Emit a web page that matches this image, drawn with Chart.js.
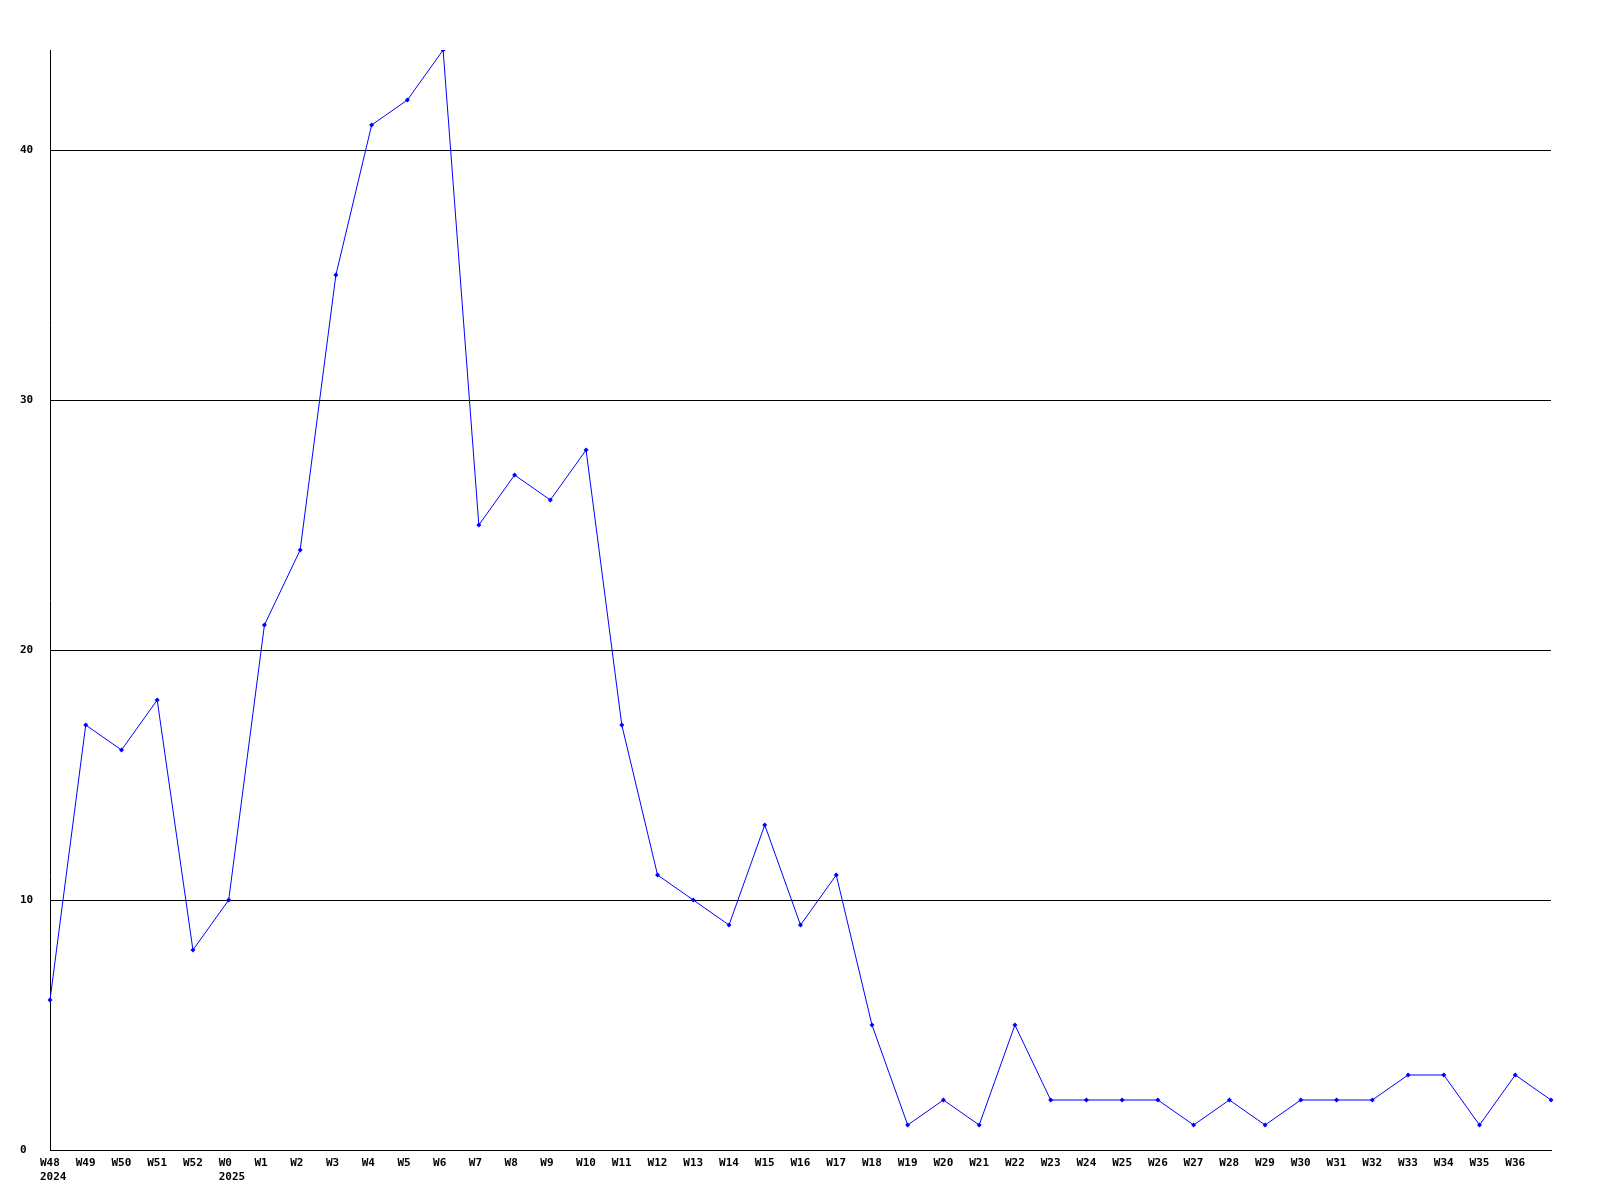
<!DOCTYPE html>
<html>
<head>
<meta charset="utf-8">
<title>Weekly count</title>
<script src="https://cdn.jsdelivr.net/npm/chart.js@4/dist/chart.umd.min.js"></script>
<style>
  html, body { margin: 0; padding: 0; background: #fff; }
  #chart { display: block; }
</style>
</head>
<body>
<canvas id="chart" width="1600" height="1200"></canvas>
<script>
// week labels (second line = year where it changes); last point has no label
const weeks = ['W48','W49','W50','W51','W52','W0','W1','W2','W3','W4','W5','W6','W7','W8','W9','W10',
  'W11','W12','W13','W14','W15','W16','W17','W18','W19','W20','W21','W22','W23','W24','W25','W26',
  'W27','W28','W29','W30','W31','W32','W33','W34','W35','W36',''];
const years = { 0: '2024', 5: '2025' };
const counts = [6,17,16,18,8,10,21,24,35,41,42,44,25,27,26,28,
  17,11,10,9,13,9,11,5,1,2,1,5,2,2,2,2,
  1,2,1,2,2,2,3,3,1,3,2];
const yTicks = [0,10,20,30,40];
const yMax = 44;

const labels = weeks.map((w, i) => years[i] ? [w, years[i]] : w);
const font = { family: '"DejaVu Sans Mono", "Liberation Mono", monospace', size: 11, weight: 'bold', lineHeight: 1.27 };

new Chart(document.getElementById('chart'), {
  type: 'line',
  data: {
    labels,
    datasets: [{
      data: counts,
      borderColor: '#0000ff',
      borderWidth: 1,
      backgroundColor: '#0000ff',
      pointStyle: 'rectRot',
      pointRadius: 2.5,
      pointBorderWidth: 0,
      tension: 0,
      fill: false
    }]
  },
  options: {
    responsive: false,
    animation: false,
    layout: { padding: { left: 20, top: 50, right: 49, bottom: 0 } },
    plugins: { legend: { display: false }, tooltip: { enabled: false } },
    scales: {
      x: {
        offset: false,
        grid: { display: false, drawTicks: false },
        border: { display: true, color: '#000', width: 1 },
        ticks: {
          color: '#000', font, autoSkip: false, maxRotation: 0, minRotation: 0,
          align: 'start', labelOffset: -10, padding: 6
        },
        afterFit: s => { s.height = 50; }
      },
      y: {
        min: 0, max: yMax,
        grid: { color: '#000', lineWidth: 1, drawTicks: false },
        border: { display: true, color: '#000', width: 1 },
        ticks: { color: '#000', font, stepSize: 10, crossAlign: 'far', padding: 0 },
        afterBuildTicks: s => { s.ticks = yTicks.map(v => ({ value: v })); },
        afterFit: s => { s.width = 30; }
      }
    }
  }
});
</script>
</body>
</html>
